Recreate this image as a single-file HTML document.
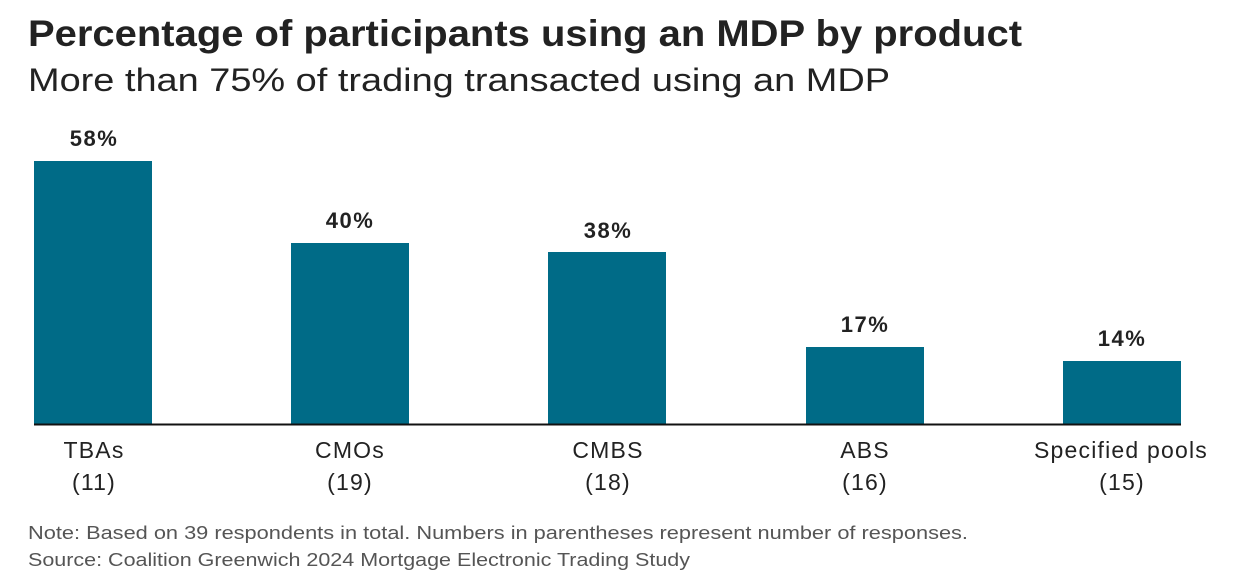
<!DOCTYPE html>
<html><head><style>
body{margin:0;background:#fff;width:1238px;height:575px;overflow:hidden;font-family:"Liberation Sans",sans-serif;color:#222;}
</style></head><body>
<svg width="1238" height="575" xmlns="http://www.w3.org/2000/svg" style="position:absolute;left:0;top:0">
<g font-family="Liberation Sans, sans-serif" fill="#222">
<text x="28" y="46" font-size="37" font-weight="bold" textLength="994" lengthAdjust="spacingAndGlyphs">Percentage of participants using an MDP by product</text>
<text x="28" y="91" font-size="32" textLength="862" lengthAdjust="spacingAndGlyphs">More than 75% of trading transacted using an MDP</text>
</g>
<g fill="#006b87">
<rect x="34" y="161" width="118" height="263"/>
<rect x="291" y="243" width="118" height="181"/>
<rect x="548" y="252" width="118" height="172"/>
<rect x="806" y="347" width="118" height="77"/>
<rect x="1063" y="361" width="118" height="63"/>
</g>
<line x1="34" y1="424.5" x2="1181" y2="424.5" stroke="#111" stroke-width="2"/>
<g font-family="Liberation Sans, sans-serif" font-size="22" font-weight="bold" text-anchor="middle" fill="#222" letter-spacing="1.5">
<text x="94" y="146">58%</text>
<text x="350" y="228">40%</text>
<text x="608" y="238">38%</text>
<text x="865" y="332">17%</text>
<text x="1122" y="346">14%</text>
</g>
<g font-family="Liberation Sans, sans-serif" font-size="23" text-anchor="middle" fill="#222" letter-spacing="1.2">
<text x="94" y="458">TBAs</text><text x="94" y="490">(11)</text>
<text x="350" y="458">CMOs</text><text x="350" y="490">(19)</text>
<text x="608" y="458">CMBS</text><text x="608" y="490">(18)</text>
<text x="865" y="458">ABS</text><text x="865" y="490">(16)</text>
<text x="1121" y="458">Specified pools</text><text x="1122" y="490">(15)</text>
</g>
<g font-family="Liberation Sans, sans-serif" font-size="18" fill="#555">
<text x="28" y="539" textLength="940" lengthAdjust="spacingAndGlyphs">Note: Based on 39 respondents in total. Numbers in parentheses represent number of responses.</text>
<text x="28" y="566" textLength="662" lengthAdjust="spacingAndGlyphs">Source: Coalition Greenwich 2024 Mortgage Electronic Trading Study</text>
</g>
</svg>
</body></html>
